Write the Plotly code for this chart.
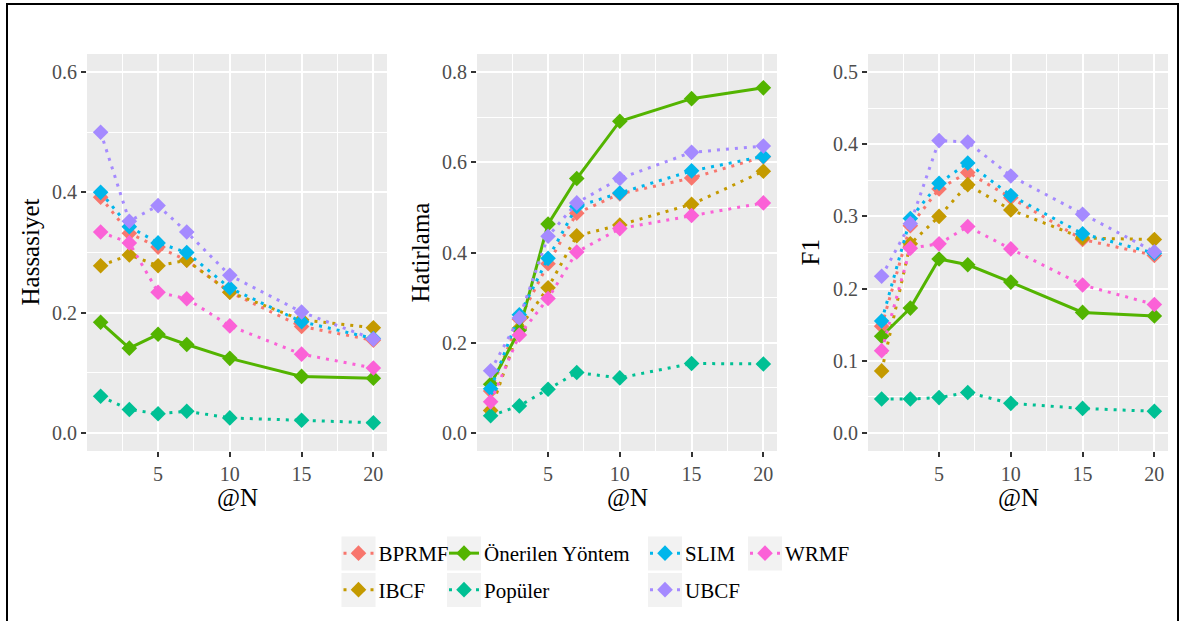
import plotly.graph_objects as go

# ---------------- data ----------------
N_values = [1, 3, 5, 7, 10, 15, 20]
methods = ["BPRMF", "IBCF", "Önerilen Yöntem", "Popüler", "SLIM", "UBCF", "WRMF"]
colors = ["#F8766D", "#C49A00", "#53B400", "#00C094", "#00B6EB", "#A58AFF", "#FB61D7"]

hassasiyet = {
    "BPRMF":           [0.392, 0.332, 0.309, 0.287, 0.234, 0.177, 0.154],
    "IBCF":            [0.278, 0.296, 0.278, 0.287, 0.234, 0.188, 0.175],
    "Önerilen Yöntem": [0.184, 0.141, 0.164, 0.147, 0.124, 0.094, 0.091],
    "Popüler":         [0.061, 0.039, 0.032, 0.036, 0.025, 0.021, 0.017],
    "SLIM":            [0.400, 0.343, 0.316, 0.300, 0.241, 0.185, 0.157],
    "UBCF":            [0.500, 0.352, 0.378, 0.334, 0.262, 0.201, 0.156],
    "WRMF":            [0.334, 0.316, 0.234, 0.223, 0.178, 0.131, 0.108],
}
hatirlama = {
    "BPRMF":           [0.093, 0.252, 0.375, 0.487, 0.530, 0.565, 0.612],
    "IBCF":            [0.050, 0.232, 0.322, 0.437, 0.461, 0.507, 0.580],
    "Önerilen Yöntem": [0.108, 0.228, 0.463, 0.564, 0.691, 0.741, 0.765],
    "Popüler":         [0.038, 0.060, 0.097, 0.134, 0.122, 0.154, 0.153],
    "SLIM":            [0.098, 0.262, 0.387, 0.502, 0.532, 0.581, 0.613],
    "UBCF":            [0.138, 0.255, 0.436, 0.510, 0.564, 0.622, 0.636],
    "WRMF":            [0.069, 0.217, 0.298, 0.401, 0.453, 0.482, 0.510],
}
f1 = {
    "BPRMF":           [0.148, 0.287, 0.338, 0.361, 0.326, 0.268, 0.246],
    "IBCF":            [0.086, 0.262, 0.300, 0.344, 0.309, 0.270, 0.268],
    "Önerilen Yöntem": [0.134, 0.173, 0.241, 0.233, 0.209, 0.167, 0.162],
    "Popüler":         [0.047, 0.047, 0.049, 0.056, 0.041, 0.034, 0.030],
    "SLIM":            [0.155, 0.297, 0.346, 0.374, 0.329, 0.276, 0.249],
    "UBCF":            [0.217, 0.290, 0.405, 0.403, 0.356, 0.303, 0.251],
    "WRMF":            [0.114, 0.256, 0.262, 0.286, 0.255, 0.205, 0.178],
}
panels = [("Hassasiyet", hassasiyet, 0.6, 0.2, 0.1),
          ("Hatirlama", hatirlama, 0.8, 0.2, 0.1),
          ("F1", f1, 0.5, 0.1, 0.05)]
x_ticks = [5, 10, 15, 20]

# ---------------- layout helpers ----------------
W, H = 1180, 621
def px(x): return x / W
def py(y): return 1 - y / H

panel_x = [(87, 387), (477, 777), (868, 1168)]
panel_top, panel_bot = 54, 451
FONT = "Liberation Serif"

fig = go.Figure()

# legend positions (key centres in px): column-major like ggplot
legend_pos = {
    "BPRMF": (358.5, 553.5), "IBCF": (358.5, 590),
    "Önerilen Yöntem": (464, 553.5), "Popüler": (464, 590),
    "SLIM": (665, 553.5), "UBCF": (665, 590),
    "WRMF": (765, 553.5),
}

for p, (title, data, ymax, dtick, mdtick) in enumerate(panels):
    ax = "" if p == 0 else str(p + 1)
    for k, m in enumerate(methods):
        solid = m == "Önerilen Yöntem"
        fig.add_trace(go.Scatter(
            x=N_values, y=data[m], mode="lines+markers", name=m,
            xaxis="x" + ax, yaxis="y" + ax,
            line=dict(color=colors[k], width=3,
                      dash="solid" if solid else "3px,6px"),
            marker=dict(symbol="diamond", size=12, color=colors[k]),
            showlegend=(p == 0),
            legend="legend" if k == 0 else f"legend{k+1}",
        ))
    x0, x1 = panel_x[p]
    tf = dict(family=FONT, size=20, color="#4D4D4D")
    fig.update_layout(**{
        "xaxis" + ax: dict(domain=[px(x0), px(x1)], anchor="y" + ax,
                           range=[0.05, 20.95], tickmode="array", tickvals=x_ticks,
                           showline=False, zeroline=False, ticks="outside", ticklen=5,
                           tickwidth=2, tickcolor="#333333", tickfont=tf,
                           showgrid=True, gridcolor="white", gridwidth=2,
                           minor=dict(tickvals=[2.5, 7.5, 12.5, 17.5], showgrid=True,
                                      gridcolor="white", gridwidth=1.1, ticks="")),
        "yaxis" + ax: dict(domain=[py(panel_bot), py(panel_top)], anchor="x" + ax,
                           range=[-0.05 * ymax, 1.05 * ymax], dtick=dtick, tick0=0,
                           tickformat=".1f",
                           showline=False, zeroline=False, ticks="outside", ticklen=5,
                           tickwidth=2, tickcolor="#333333", tickfont=tf,
                           showgrid=True, gridcolor="white", gridwidth=2,
                           minor=dict(dtick=mdtick, tick0=0, showgrid=True,
                                      gridcolor="white", gridwidth=1.1, ticks="")),
    })
    # axis titles
    ycx = [30, 420, 810][p]
    fig.add_annotation(text=title, x=px(ycx), y=py((panel_top + panel_bot) / 2),
                       xref="paper", yref="paper", showarrow=False, textangle=-90,
                       font=dict(family=FONT, size=25, color="black"),
                       xanchor="center", yanchor="middle")
    fig.add_annotation(text="@N", x=px((x0 + x1) / 2), y=py(498),
                       xref="paper", yref="paper", showarrow=False,
                       font=dict(family=FONT, size=25, color="black"),
                       xanchor="center", yanchor="middle")

shapes = []
# panel backgrounds
for (x0, x1) in panel_x:
    shapes.append(dict(type="rect", xref="paper", yref="paper", layer="below",
                       x0=px(x0), x1=px(x1), y0=py(panel_bot), y1=py(panel_top),
                       fillcolor="#EBEBEB", line=dict(width=0)))
# legend key backgrounds
for m, (cx, cy) in legend_pos.items():
    shapes.append(dict(type="rect", xref="paper", yref="paper", layer="below",
                       x0=px(cx - 17), x1=px(cx + 17), y0=py(cy + 17), y1=py(cy - 17),
                       fillcolor="#F2F2F2", line=dict(width=0)))
# outer frame
shapes.append(dict(type="rect", xref="paper", yref="paper",
                   x0=px(7), x1=px(1178), y0=-0.05, y1=py(4),
                   fillcolor="rgba(0,0,0,0)", line=dict(color="black", width=2)))

legends = {}
for k, m in enumerate(methods):
    cx, cy = legend_pos[m]
    key = "legend" if k == 0 else f"legend{k+1}"
    legends[key] = dict(x=px(cx - 20), y=py(cy), xanchor="left", yanchor="middle",
                        bgcolor="rgba(0,0,0,0)", borderwidth=0,
                        font=dict(family=FONT, size=21, color="black"),
                        itemwidth=30)

fig.update_layout(
    width=W, height=H, margin=dict(l=0, r=0, t=0, b=0),
    font=dict(family=FONT, size=20, color="#4D4D4D"),
    paper_bgcolor="white", plot_bgcolor="rgba(0,0,0,0)",
    shapes=shapes, **legends,
)

fig.write_html("out.html")
